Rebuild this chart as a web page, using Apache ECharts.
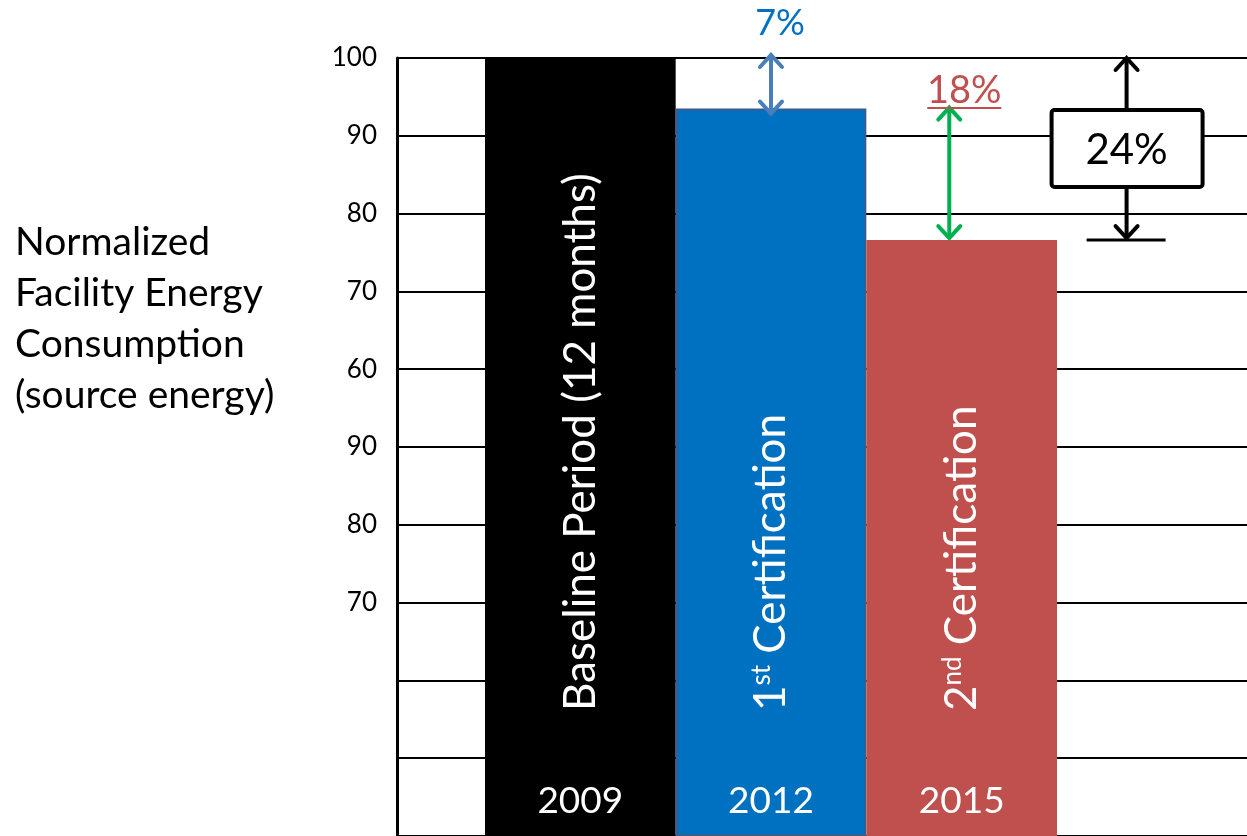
<!DOCTYPE html>
<html>
<head>
<meta charset="utf-8">
<script src="https://cdn.jsdelivr.net/npm/echarts@6/dist/echarts.min.js"></script>
<style>
html,body{margin:0;padding:0;background:#fff;}
#chart{width:1247px;height:836px;}
</style>
</head>
<body>
<div id="chart"></div>
<script>
// ---- data ----
const categories = ['Baseline Period (12 months)', '1st Certification', '2nd Certification'];
const years = ['2009', '2012', '2015'];
const values = [100, 93.5, 76.6];
const barColors = ['#000000', '#0070C0', '#C0504D'];
const tickValues = [100, 90, 80, 70, 60, 50, 40, 30, 20, 10, 0];
const tickLabels = ['100', '90', '80', '70', '60', '90', '80', '70', '', '', ''];
const axisTitle = ['Normalized', 'Facility Energy', 'Consumption', '(source energy)'];
const reductionLabels = ['7%', '18%', '24%'];

const FONT = 'Lato';

function richName(name) {
  const m = name.match(/^(\d)(st|nd|rd|th)(.*)$/);
  if (!m) return '{n|' + name + '}';
  return '{n|' + m[1] + '}{s|' + m[2] + '}{n|' + m[3] + '}';
}

const chart = echarts.init(document.getElementById('chart'), null, {renderer: 'canvas'});

const option = {
  backgroundColor: '#ffffff',
  animation: false,
  title: {
    text: axisTitle.join('\n'),
    left: 15,
    top: 217,
    padding: 0,
    textStyle: {fontFamily: FONT, fontSize: 39, lineHeight: 51, fontWeight: 'normal', color: '#000'}
  },
  grid: [
    {left: 397, right: 0, top: 58, height: 779, containLabel: false},
    {left: 485, right: 190, top: 58, height: 779, containLabel: false}
  ],
  xAxis: [
    {gridIndex: 0, type: 'category', data: [''], show: false},
    {
      gridIndex: 1, type: 'category', data: years, z: 10,
      axisLine: {show: false}, axisTick: {show: false},
      axisLabel: {inside: true, margin: 16, color: '#fff', fontFamily: FONT, fontSize: 37}
    }
  ],
  yAxis: [
    {
      gridIndex: 0, type: 'value', min: 0, max: 100, interval: 10,
      axisLine: {show: true, lineStyle: {color: '#000', width: 3}},
      axisTick: {show: false},
      splitLine: {show: true, lineStyle: {color: '#000', width: 2}},
      axisLabel: {
        margin: 20, color: '#000', fontFamily: FONT, fontSize: 26,
        formatter: function (v) { const i = tickValues.indexOf(v); return i >= 0 ? tickLabels[i] : ''; }
      }
    },
    {gridIndex: 1, type: 'value', min: 0, max: 100, interval: 10, show: false, splitLine: {show: false}}
  ],
  series: [{
    type: 'bar',
    xAxisIndex: 1, yAxisIndex: 1,
    barCategoryGap: 0,
    data: values.map((v, i) => ({
      value: v,
      itemStyle: {
        color: barColors[i],
        borderColor: i === 1 ? '#385D8A' : barColors[i],
        borderWidth: i === 1 ? 2 : 0
      }
    })),
    label: {
      show: true,
      position: 'insideBottom',
      distance: 125,
      rotate: 90,
      align: 'left',
      verticalAlign: 'middle',
      formatter: function (p) { return richName(categories[p.dataIndex]); },
      rich: {
        n: {color: '#fff', fontFamily: FONT, fontSize: 44},
        s: {color: '#fff', fontFamily: FONT, fontSize: 26, verticalAlign: 'top', padding: [0, 0, 16, 0]}
      }
    }
  }]
};
chart.setOption(option);

// ---- annotations positioned from data values ----
function px(cat, val) { return chart.convertToPixel({xAxisIndex: 1, yAxisIndex: 1}, [cat, val]); }
const yTop = px(0, values[0])[1];
const y1 = px(1, values[1])[1];
const y2 = px(2, values[2])[1];
const xc1 = px(1, values[1])[0];
const xc2 = px(2, values[2])[0];
const slot = xc2 - xc1;

function arrow(x, yA, yB, color, head) {
  const h = head || 12, w = 11, lw = 4;
  const els = [
    {type: 'line', shape: {x1: x, y1: yA + 2, x2: x, y2: yB - 2}, style: {stroke: color, lineWidth: lw}},
    {type: 'polyline', shape: {points: [[x - w, yA + h], [x, yA], [x + w, yA + h]]}, style: {stroke: color, lineWidth: lw, fill: null, lineCap: 'round', lineJoin: 'miter'}},
    {type: 'polyline', shape: {points: [[x - w, yB - h], [x, yB], [x + w, yB - h]]}, style: {stroke: color, lineWidth: lw, fill: null, lineCap: 'round', lineJoin: 'miter'}}
  ];
  return els;
}

const xGreen = xc2 - slot * 0.065;
const x24 = xc2 + slot * 0.865;
const graphics = [];
// 7% arrow
graphics.push(...arrow(xc1, yTop - 3, y1 + 5, '#4A7EBB'));
graphics.push({type: 'text', x: xc1 + 9, y: 23, style: {text: reductionLabels[0], fill: '#0070C0', font: '36px ' + FONT, align: 'center', verticalAlign: 'middle'}});
// 18% arrow
graphics.push(...arrow(xGreen, y1 - 1, y2 - 2, '#00B050'));
graphics.push({type: 'text', x: xGreen + 15, y: 91, style: {text: reductionLabels[1], fill: '#C0504D', font: '38px ' + FONT, align: 'center', verticalAlign: 'middle'}});
graphics.push({type: 'line', shape: {x1: xGreen - 22, y1: 108, x2: xGreen + 52, y2: 108}, style: {stroke: '#C0504D', lineWidth: 2}});
// 24% arrow with box
graphics.push(...arrow(x24, yTop, y2 - 2, '#000000'));
graphics.push({type: 'line', shape: {x1: x24 - 40, y1: y2, x2: x24 + 39, y2: y2}, style: {stroke: '#000', lineWidth: 3}});
graphics.push({type: 'rect', shape: {x: x24 - 75, y: 110, width: 151, height: 77, r: 3}, style: {fill: '#fff', stroke: '#000', lineWidth: 4}, z: 10});
graphics.push({type: 'text', x: x24, y: 150, style: {text: reductionLabels[2], fill: '#000', font: '42px ' + FONT, align: 'center', verticalAlign: 'middle'}, z: 11});

chart.setOption({graphic: graphics.map(g => Object.assign({}, g, {z: g.z || 5}))});
</script>
</body>
</html>
